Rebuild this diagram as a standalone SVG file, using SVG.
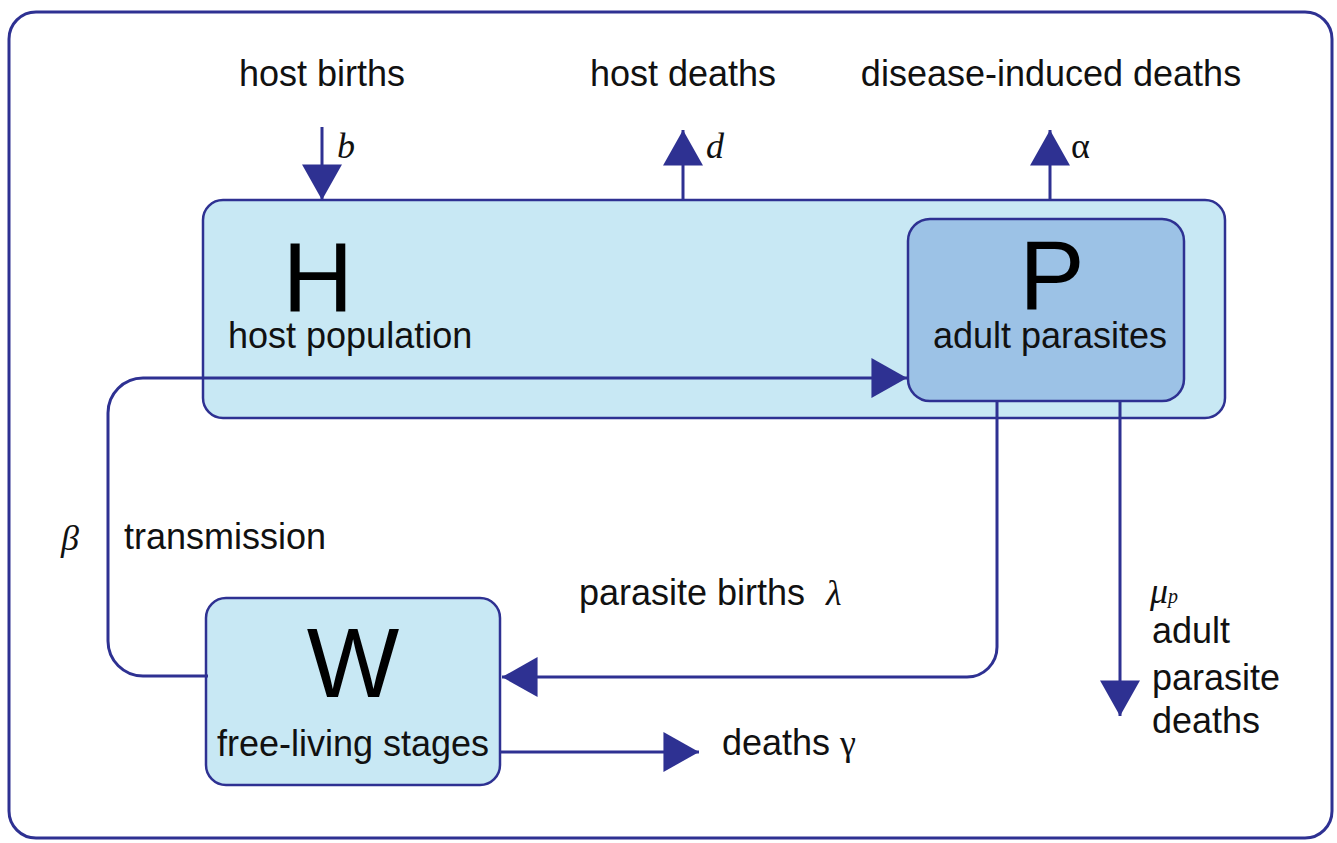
<svg xmlns="http://www.w3.org/2000/svg" width="1337" height="843" viewBox="0 0 1337 843">
<defs>
<style>
.box{stroke:#2e3192;stroke-width:2.5}
.t{font-family:"Liberation Sans",Arial,sans-serif;font-size:36px;fill:#111}
.big{font-family:"Liberation Sans",Arial,sans-serif;font-size:98px;fill:#000}
.m{font-family:"Liberation Serif","Times New Roman",serif;font-style:italic;font-size:36px;fill:#111}
.g{font-family:"Liberation Serif","Times New Roman",serif;font-size:36px;fill:#111}
.c{fill:none;stroke:#2e3192;stroke-width:3}
</style>
<marker id="ah" markerUnits="userSpaceOnUse" markerWidth="40" markerHeight="40" viewBox="0 0 32 36" refX="32" refY="18" orient="auto">
<path d="M0 0 L32 18 L0 36 Z" fill="#2e3192"/>
</marker>
</defs>
<rect width="1337" height="843" fill="#fff"/>
<rect x="9" y="12" width="1323" height="826" rx="27" fill="none" stroke="#2e3192" stroke-width="3"/>

<g id="node-H">
<rect class="box" x="203" y="200" width="1022" height="218" rx="20" fill="#c8e8f4"/>
<text class="big" x="318" y="311" text-anchor="middle">H</text>
<text class="t" x="228" y="348">host population</text>
</g>
<g id="node-P">
<rect class="box" x="908" y="219" width="276" height="182" rx="22" fill="#9cc2e6"/>
<text class="big" x="1052" y="309" text-anchor="middle">P</text>
<text class="t" x="1050" y="348" text-anchor="middle">adult parasites</text>
</g>
<g id="node-W">
<rect class="box" x="206" y="598" width="294" height="187" rx="20" fill="#c8e8f4"/>
<text class="big" x="353" y="697" text-anchor="middle">W</text>
<text class="t" x="353" y="756" text-anchor="middle">free-living stages</text>
</g>

<g id="connectors">
<path class="c" d="M322 127 V200" marker-end="url(#ah)"/>
<path class="c" d="M683 200 V130" marker-end="url(#ah)"/>
<path class="c" d="M1050 200 V130" marker-end="url(#ah)"/>
<path class="c" d="M208 676 H143 A35 35 0 0 1 108 641 V413 A35 35 0 0 1 143 378 H907" marker-end="url(#ah)"/>
<path class="c" d="M997 401 V647 A30 30 0 0 1 967 677 H502" marker-end="url(#ah)"/>
<path class="c" d="M1120 401 V716" marker-end="url(#ah)"/>
<path class="c" d="M500 752 H699" marker-end="url(#ah)"/>
</g>

<g id="labels">
<text class="t" x="322" y="86" text-anchor="middle">host births</text>
<text class="t" x="683" y="86" text-anchor="middle">host deaths</text>
<text class="t" x="1051" y="86" text-anchor="middle">disease-induced deaths</text>
<text class="m" x="337" y="158">b</text>
<text class="m" x="706" y="158">d</text>
<text class="g" x="1071" y="158">α</text>
<text class="m" x="61" y="550">β</text>
<text class="t" x="124" y="549">transmission</text>
<text class="t" x="579" y="605">parasite births</text>
<text class="m" x="826" y="605">λ</text>
<text class="m" x="1150" y="603" font-size="28">μ<tspan font-size="20">p</tspan></text>
<text class="t" x="1152" y="643">adult</text>
<text class="t" x="1152" y="690">parasite</text>
<text class="t" x="1152" y="733">deaths</text>
<text class="t" x="722" y="755">deaths <tspan class="g">γ</tspan></text>
</g>
</svg>
